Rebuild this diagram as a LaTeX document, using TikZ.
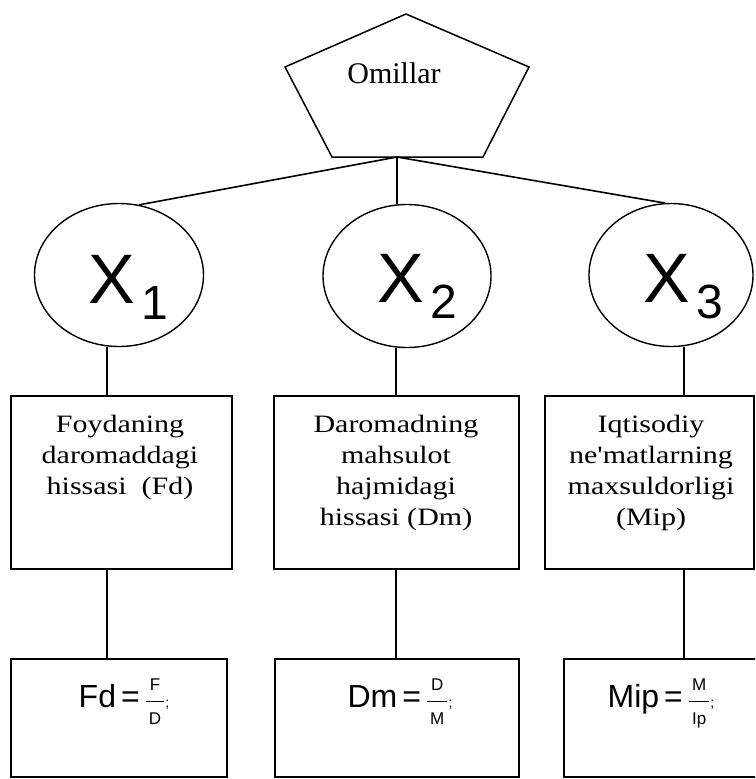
\documentclass[tikz,border=0pt]{standalone}
\usepackage{fontspec}
\setmainfont{Liberation Serif}
\newfontfamily\boxfont[FakeStretch=1.2]{Liberation Serif}
\newfontfamily\xfont{Liberation Sans}
\usetikzlibrary{shapes.geometric}
\newcommand\myfr[2]{$\displaystyle\frac{\mbox{\fontsize{17}{17}\selectfont\hspace{3pt}#1\hspace{3pt}}}{\mbox{\fontsize{17}{17}\selectfont\hspace{3pt}#2\hspace{3pt}}}$}
\newcommand\semi{{\fontsize{14}{14}\selectfont ;}}
\newcommand\xsub[1]{X\hspace{6pt}\raisebox{-16pt}{\fontsize{48}{48}\selectfont #1}}
\begin{document}
\begin{tikzpicture}[x=1pt,y=-1pt,line width=1.6pt,
  oval/.style={draw,ellipse,minimum height=143pt,inner sep=0pt,line width=1.4pt},
  boxr/.style={draw,rectangle,inner sep=0pt},
  boxtext/.style={font=\boxfont\fontsize{25}{31}\selectfont,align=center,inner sep=0pt,anchor=north},
  xlab/.style={font=\xfont\fontsize{70}{70}\selectfont,inner sep=0pt,anchor=base west},
  formula/.style={font=\xfont\fontsize{32}{32}\selectfont,inner sep=0pt,anchor=base},
  conn/.style={line width=1.6pt}]
\useasboundingbox (0,0) rectangle (755,779);
\clip (0,0) rectangle (755,779);
\fill[white] (0,0) rectangle (755,779);
% pentagon
\draw[line width=1.5pt,line join=miter] (406,14) -- (529,67) -- (483,157) -- (332,157) -- (285,67) -- cycle;
\node[font=\fontsize{30}{30}\selectfont,inner sep=0pt,anchor=base] (om) at (394,83) {Omillar};
\coordinate (pb) at (397,157);
% ellipses
\node[oval,minimum width=169pt] (e1) at (119,275) {};
\node[oval,minimum width=168pt] (e2) at (407,276) {};
\node[oval,minimum width=164pt] (e3) at (671,275) {};
\node[xlab] (x1) at (88,303) {\xsub{1}};
\node[xlab] (x2) at (377,302) {\xsub{2}};
\node[xlab] (x3) at (643,302) {\xsub{3}};
% top connectors
\draw[conn] (pb) -- (e1.74);
\draw[conn] (pb) -- (pb |- e2.north);
\draw[conn] (pb) -- (e3.95);
% boxes
\node[boxr,minimum width=221pt,minimum height=173pt] (b1) at (121.5,482.5) {};
\node[boxr,minimum width=245pt,minimum height=173pt] (b2) at (396.5,482.5) {};
\node[boxr,minimum width=209pt,minimum height=173pt] (b3) at (649.5,482.5) {};
\node[boxtext] (t1) at (120,414) {Foydaning\\daromaddagi\\hissasi\ \ (Fd)};
\node[boxtext] (t2) at (396,414) {Daromadning\\mahsulot\\hajmidagi\\hissasi (Dm)};
\node[boxtext] (t3) at (651,414) {Iqtisodiy\\ne'matlarning\\maxsuldorligi\\(Mip)};
\node[boxr,minimum width=216pt,minimum height=118pt] (c1) at (119,718) {};
\node[boxr,minimum width=244pt,minimum height=118pt] (c2) at (397,718) {};
\node[boxr,minimum width=206pt,minimum height=118pt] (c3) at (667,718) {};
\node[formula] (f1) at (124,707) {Fd\hspace{5pt}=\hspace{5pt}\myfr{F}{D}\semi};
\node[formula] (f2) at (400,707) {Dm\hspace{5pt}=\hspace{5pt}\myfr{D}{M}\semi};
\node[formula] (f3) at (661,707) {Mip\hspace{5pt}=\hspace{5pt}\myfr{M}{Ip}\semi};
% lower connectors
\coordinate (k1) at (107,0);
\coordinate (k2) at (396,0);
\coordinate (k3) at (684,0);
\draw[conn] (k1 |- e1.south) -- (k1 |- b1.north);
\draw[conn] (k2 |- e2.south) -- (k2 |- b2.north);
\draw[conn] (k3 |- e3.south) -- (k3 |- b3.north);
\draw[conn] (k1 |- b1.south) -- (k1 |- c1.north);
\draw[conn] (k2 |- b2.south) -- (k2 |- c2.north);
\draw[conn] (k3 |- b3.south) -- (k3 |- c3.north);
\end{tikzpicture}
\end{document}
